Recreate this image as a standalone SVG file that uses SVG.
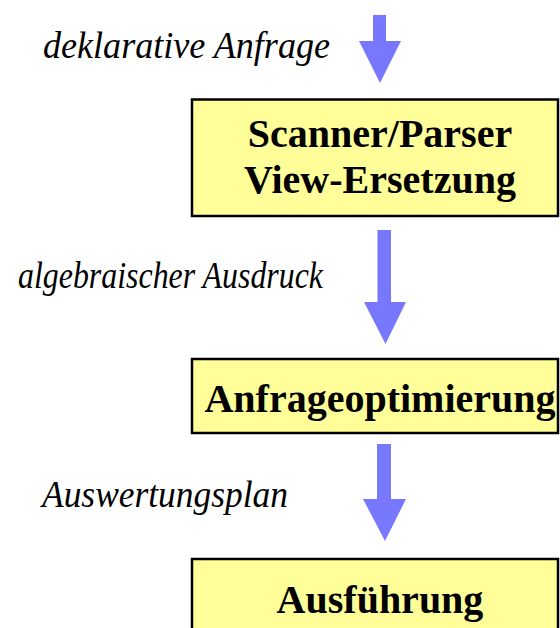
<svg xmlns="http://www.w3.org/2000/svg" width="560" height="628" viewBox="0 0 560 628">
<style>
.box{fill:#FFFF99;stroke:#000;stroke-width:2.5}
.t{font-family:"Liberation Serif",serif;font-weight:bold;font-size:40px;text-anchor:middle;fill:#000}
.l{font-family:"Liberation Serif",serif;font-style:italic;font-size:38px;fill:#000}
.arr{fill:#7878FF}
</style>
<rect width="560" height="628" fill="#fff"/>
<g id="connectors">
<polygon class="arr" points="373,15 386,15 386,41 401,41 380,83 359,41 373,41"/>
<polygon class="arr" points="377.5,230 391,230 391,302 406,302 385.5,344 364,302 377.5,302"/>
<polygon class="arr" points="377,444 391,444 391,499 406,499 385,541 363,499 377,499"/>
</g>
<g id="label1"><text class="l" x="43" y="58" textLength="287" lengthAdjust="spacingAndGlyphs">deklarative Anfrage</text></g>
<g id="label2"><text class="l" x="18" y="288" textLength="305" lengthAdjust="spacingAndGlyphs">algebraischer Ausdruck</text></g>
<g id="label3"><text class="l" x="42" y="507" textLength="246" lengthAdjust="spacingAndGlyphs">Auswertungsplan</text></g>
<g id="node1">
<rect class="box" x="192" y="99.5" width="366" height="116.5"/>
<text class="t" x="380" y="147">Scanner/Parser</text>
<text class="t" x="380" y="193">View-Ersetzung</text>
</g>
<g id="node2">
<rect class="box" x="192" y="359" width="366" height="74"/>
<text class="t" x="380" y="412">Anfrageoptimierung</text>
</g>
<g id="node3">
<rect class="box" x="192" y="559" width="366" height="80"/>
<text class="t" x="380" y="613">Ausführung</text>
</g>
</svg>
